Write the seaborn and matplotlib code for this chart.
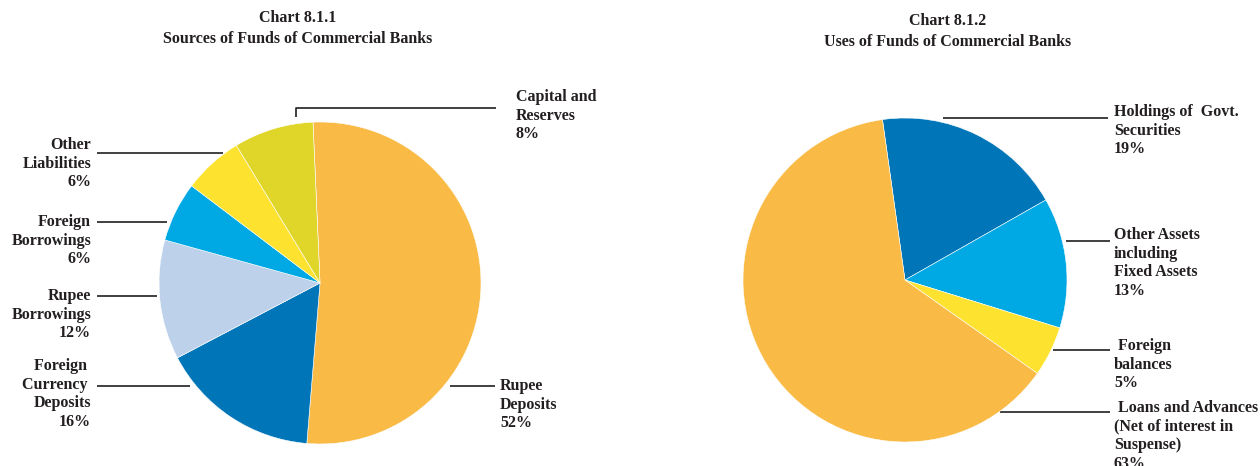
import matplotlib
matplotlib.use("Agg")
import matplotlib.pyplot as plt
import seaborn as sns

sns.set_theme(style="white")
plt.rcParams['font.family'] = ['Liberation Serif', 'DejaVu Serif']

# ---------------- data ----------------
sources_labels = ["Rupee\nDeposits\n52%", "Foreign \nCurrency \nDeposits\n16%",
                  "Rupee\nBorrowings\n12%", "Foreign\nBorrowings\n6%",
                  "Other\nLiabilities\n6%", "Capital and\nReserves\n8%"]
sources_values = [52, 16, 12, 6, 6, 8]
sources_colors = ["#F9BB45", "#0075B7", "#BDD2EA", "#00A8E4", "#FDE330", "#DFD629"]

uses_labels = ["Holdings of  Govt.\nSecurities\n19%",
               "Other Assets\nincluding\nFixed Assets\n13%",
               " Foreign\nbalances\n5%",
               " Loans and Advances\n(Net of interest in\nSuspense)\n63%"]
uses_values = [19, 13, 5, 63]
uses_colors = ["#0075B7", "#00A8E4", "#FDE330", "#F9BB45"]

titles = ["Chart 8.1.1\nSources of Funds of Commercial Banks",
          "Chart 8.1.2\nUses of Funds of Commercial Banks"]

# ---------------- layout (pixels) ----------------
W, H = 1260, 466
fig = plt.figure(figsize=(W / 100, H / 100), dpi=100)
overlay = fig.add_axes([0, 0, 1, 1])
overlay.set_xlim(0, W)
overlay.set_ylim(H, 0)
overlay.axis("off")


def pie_axes(cx, cy, r):
    ax = fig.add_axes([(cx - r) / W, (H - cy - r) / H, 2 * r / W, 2 * r / H])
    return ax


FS = 11.5
STEP = 18.6
TXT = dict(fontsize=FS, fontweight="bold", color="#231F20",
           family=['Liberation Serif', 'DejaVu Serif'])


def draw_label(text, x, y, ha):
    for i, line in enumerate(text.split("\n")):
        overlay.text(x, y + i * STEP, line, ha=ha, va="center", **TXT)


# left pie
ax1 = pie_axes(320, 283, 161)
ax1.pie(sources_values, colors=sources_colors, startangle=92.5, counterclock=False,
        wedgeprops=dict(edgecolor="white", linewidth=0.4))
ax1.set_xlim(-1, 1)
ax1.set_ylim(-1, 1)

# right pie
ax2 = pie_axes(905, 280, 162)
ax2.pie(uses_values, colors=uses_colors, startangle=98, counterclock=False,
        wedgeprops=dict(edgecolor="white", linewidth=0.4))
ax2.set_xlim(-1, 1)
ax2.set_ylim(-1, 1)

# label placement: (label index, text x, first-line y, ha, leader line points)
left_layout = [
    (0, 500, 386, "left", [(450, 386), (495, 386)]),
    (1, 91, 366, "right", [(97, 386), (190, 386)]),
    (2, 91, 296, "right", [(97, 296), (157, 296)]),
    (3, 91, 222, "right", [(97, 222), (167, 222)]),
    (4, 91, 145, "right", [(97, 153), (223, 153)]),
    (5, 516, 97, "left", [(296, 117), (296, 108), (496, 108)]),
]
right_layout = [
    (0, 1114, 112, "left", [(943, 118), (1108, 118)]),
    (1, 1114, 235, "left", [(1066, 241), (1110, 241)]),
    (2, 1114, 346, "left", [(1053, 350), (1110, 350)]),
    (3, 1114, 408, "left", [(1000, 412), (1110, 412)]),
]

for labels, layout in ((sources_labels, left_layout), (uses_labels, right_layout)):
    for idx, tx, ty, ha, pts in layout:
        draw_label(labels[idx], tx, ty, ha)
        xs = [p[0] for p in pts]
        ys = [p[1] for p in pts]
        overlay.plot(xs, ys, color="#231F20", linewidth=1.2, solid_capstyle="butt")

# titles
for title, cx, cy in zip(titles, [298, 948], [18, 21]):
    for i, line in enumerate(title.split("\n")):
        overlay.text(cx, cy + i * 21, line, ha="center", va="center", **TXT)

fig.savefig("out.png", dpi=100)
